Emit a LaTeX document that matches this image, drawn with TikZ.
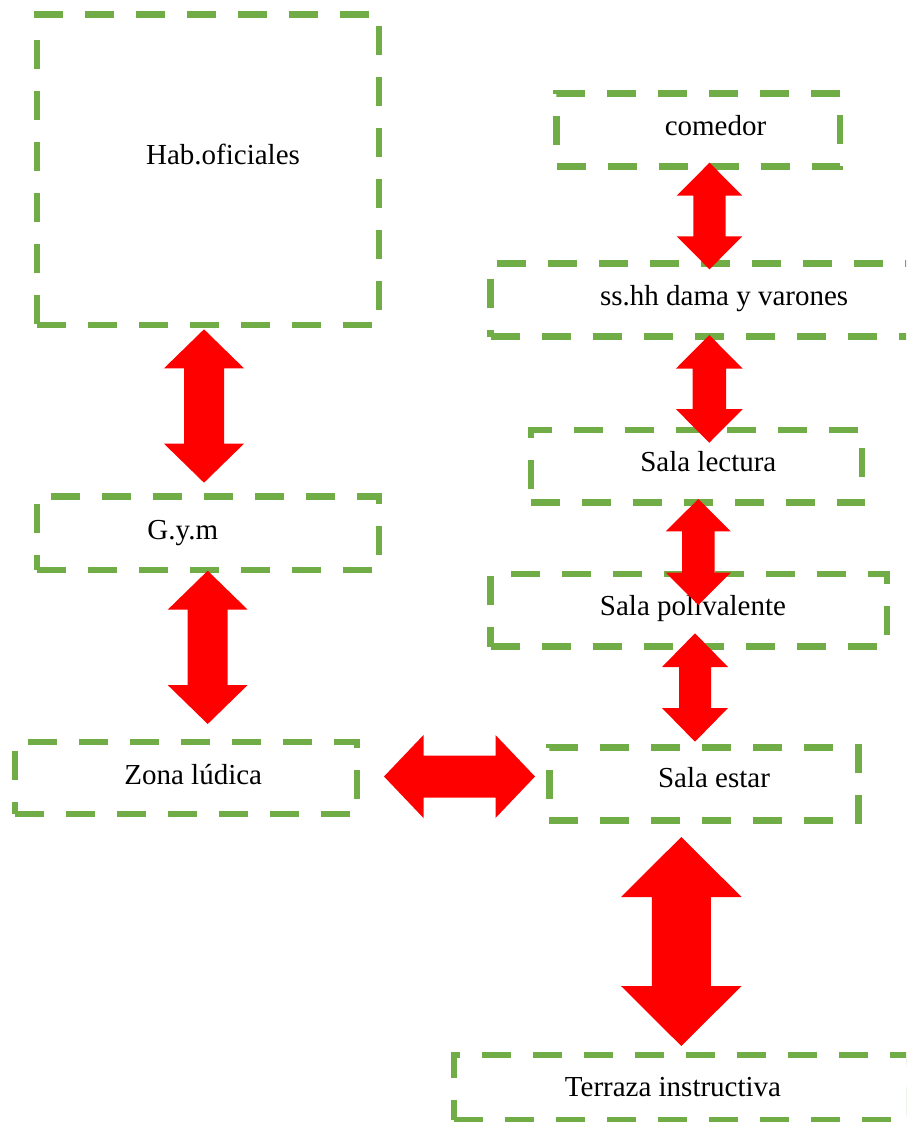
\documentclass[tikz,border=0pt]{standalone}
\usepackage{fontspec}
\setmainfont{Liberation Serif}
\definecolor{boxgreen}{HTML}{70AD47}
\definecolor{arrred}{HTML}{FF0000}
\tikzset{
  roombox/.style={draw=boxgreen, line width=6.5pt, dash pattern=on 29pt off 22pt,
    rectangle, inner sep=0pt, outer sep=0pt, anchor=north west},
  roomlabel/.style={anchor=base, inner sep=0pt, text=black, font=\fontsize{29}{34}\selectfont},
  blockarrow/.style={fill=arrred, draw=none}
}
% vertical double block arrow: x, ytop, ybot, head half width, shaft half width, head length
\newcommand\vdblarrow[6]{%
  \fill[blockarrow] (#1,#2) -- (#1+#4,#2+#6) -- (#1+#5,#2+#6) -- (#1+#5,#3-#6)
    -- (#1+#4,#3-#6) -- (#1,#3) -- (#1-#4,#3-#6) -- (#1-#5,#3-#6)
    -- (#1-#5,#2+#6) -- (#1-#4,#2+#6) -- cycle;}
% horizontal double block arrow: y, xleft, xright, head half width, shaft half width, head length
\newcommand\hdblarrow[6]{%
  \fill[blockarrow] (#2,#1) -- (#2+#6,#1-#4) -- (#2+#6,#1-#5) -- (#3-#6,#1-#5)
    -- (#3-#6,#1-#4) -- (#3,#1) -- (#3-#6,#1+#4) -- (#3-#6,#1+#5)
    -- (#2+#6,#1+#5) -- (#2+#6,#1+#4) -- cycle;}
\begin{document}
\begin{tikzpicture}[x=1pt,y=-1pt]
\useasboundingbox (0,0) rectangle (906,1122);
\clip (0,0) rectangle (906,1122);
\fill[white] (0,0) rectangle (906,1122);

% boxes
\node[roombox, minimum width=342pt, minimum height=310.5pt] (hab) at (37,14.5) {};
\node[roombox, minimum width=283.3pt, minimum height=73.4pt] (com) at (556.7,93.3) {};
\node[roombox, minimum width=440pt, minimum height=73.4pt] (ss) at (490.7,263.3) {};
\node[roombox, minimum width=331pt, minimum height=72.7pt] (lec) at (531,430) {};
\node[roombox, minimum width=396.3pt, minimum height=72.7pt] (pol) at (490.7,574) {};
\node[roombox, minimum width=342pt, minimum height=73.3pt] (gym) at (37,496.7) {};
\node[roombox, minimum width=342pt, minimum height=72pt] (zon) at (15,742) {};
\node[roombox, minimum width=309pt, minimum height=73.4pt] (est) at (549.3,747.3) {};
\node[roombox, minimum width=455pt, minimum height=65pt] (ter) at (454,1055) {};

% labels
\node[roomlabel] (habt) at (223,164) {Hab.oficiales};
\node[roomlabel] (comt) at (715.5,135) {comedor};
\node[roomlabel] (sst) at (724.2,305) {ss.hh dama y varones};
\node[roomlabel] (lect) at (708.3,471) {Sala lectura};
\node[roomlabel] (polt) at (693,615) {Sala polivalente};
\node[roomlabel] (gymt) at (182.8,539.3) {G.y.m};
\node[roomlabel] (zont) at (193.2,784) {Zona lúdica};
\node[roomlabel] (estt) at (714,787.3) {Sala estar};
\node[roomlabel] (tert) at (673,1096.7) {Terraza instructiva};

% arrows
\vdblarrow{204}{329.3}{482.7}{40}{20}{39}
\vdblarrow{207.7}{570.7}{724}{40}{20}{39}
\vdblarrow{709.5}{162.7}{269.3}{32.8}{16.2}{33}
\vdblarrow{709.3}{335}{442.7}{33.3}{16.7}{33.5}
\vdblarrow{698.3}{499}{605}{32.5}{16.3}{32.3}
\vdblarrow{695}{633.3}{741.7}{33}{16}{33.7}
\vdblarrow{681.3}{837}{1046}{60.3}{29.5}{60}
\hdblarrow{776.5}{384}{535}{41.5}{21}{39.5}
\end{tikzpicture}
\end{document}
